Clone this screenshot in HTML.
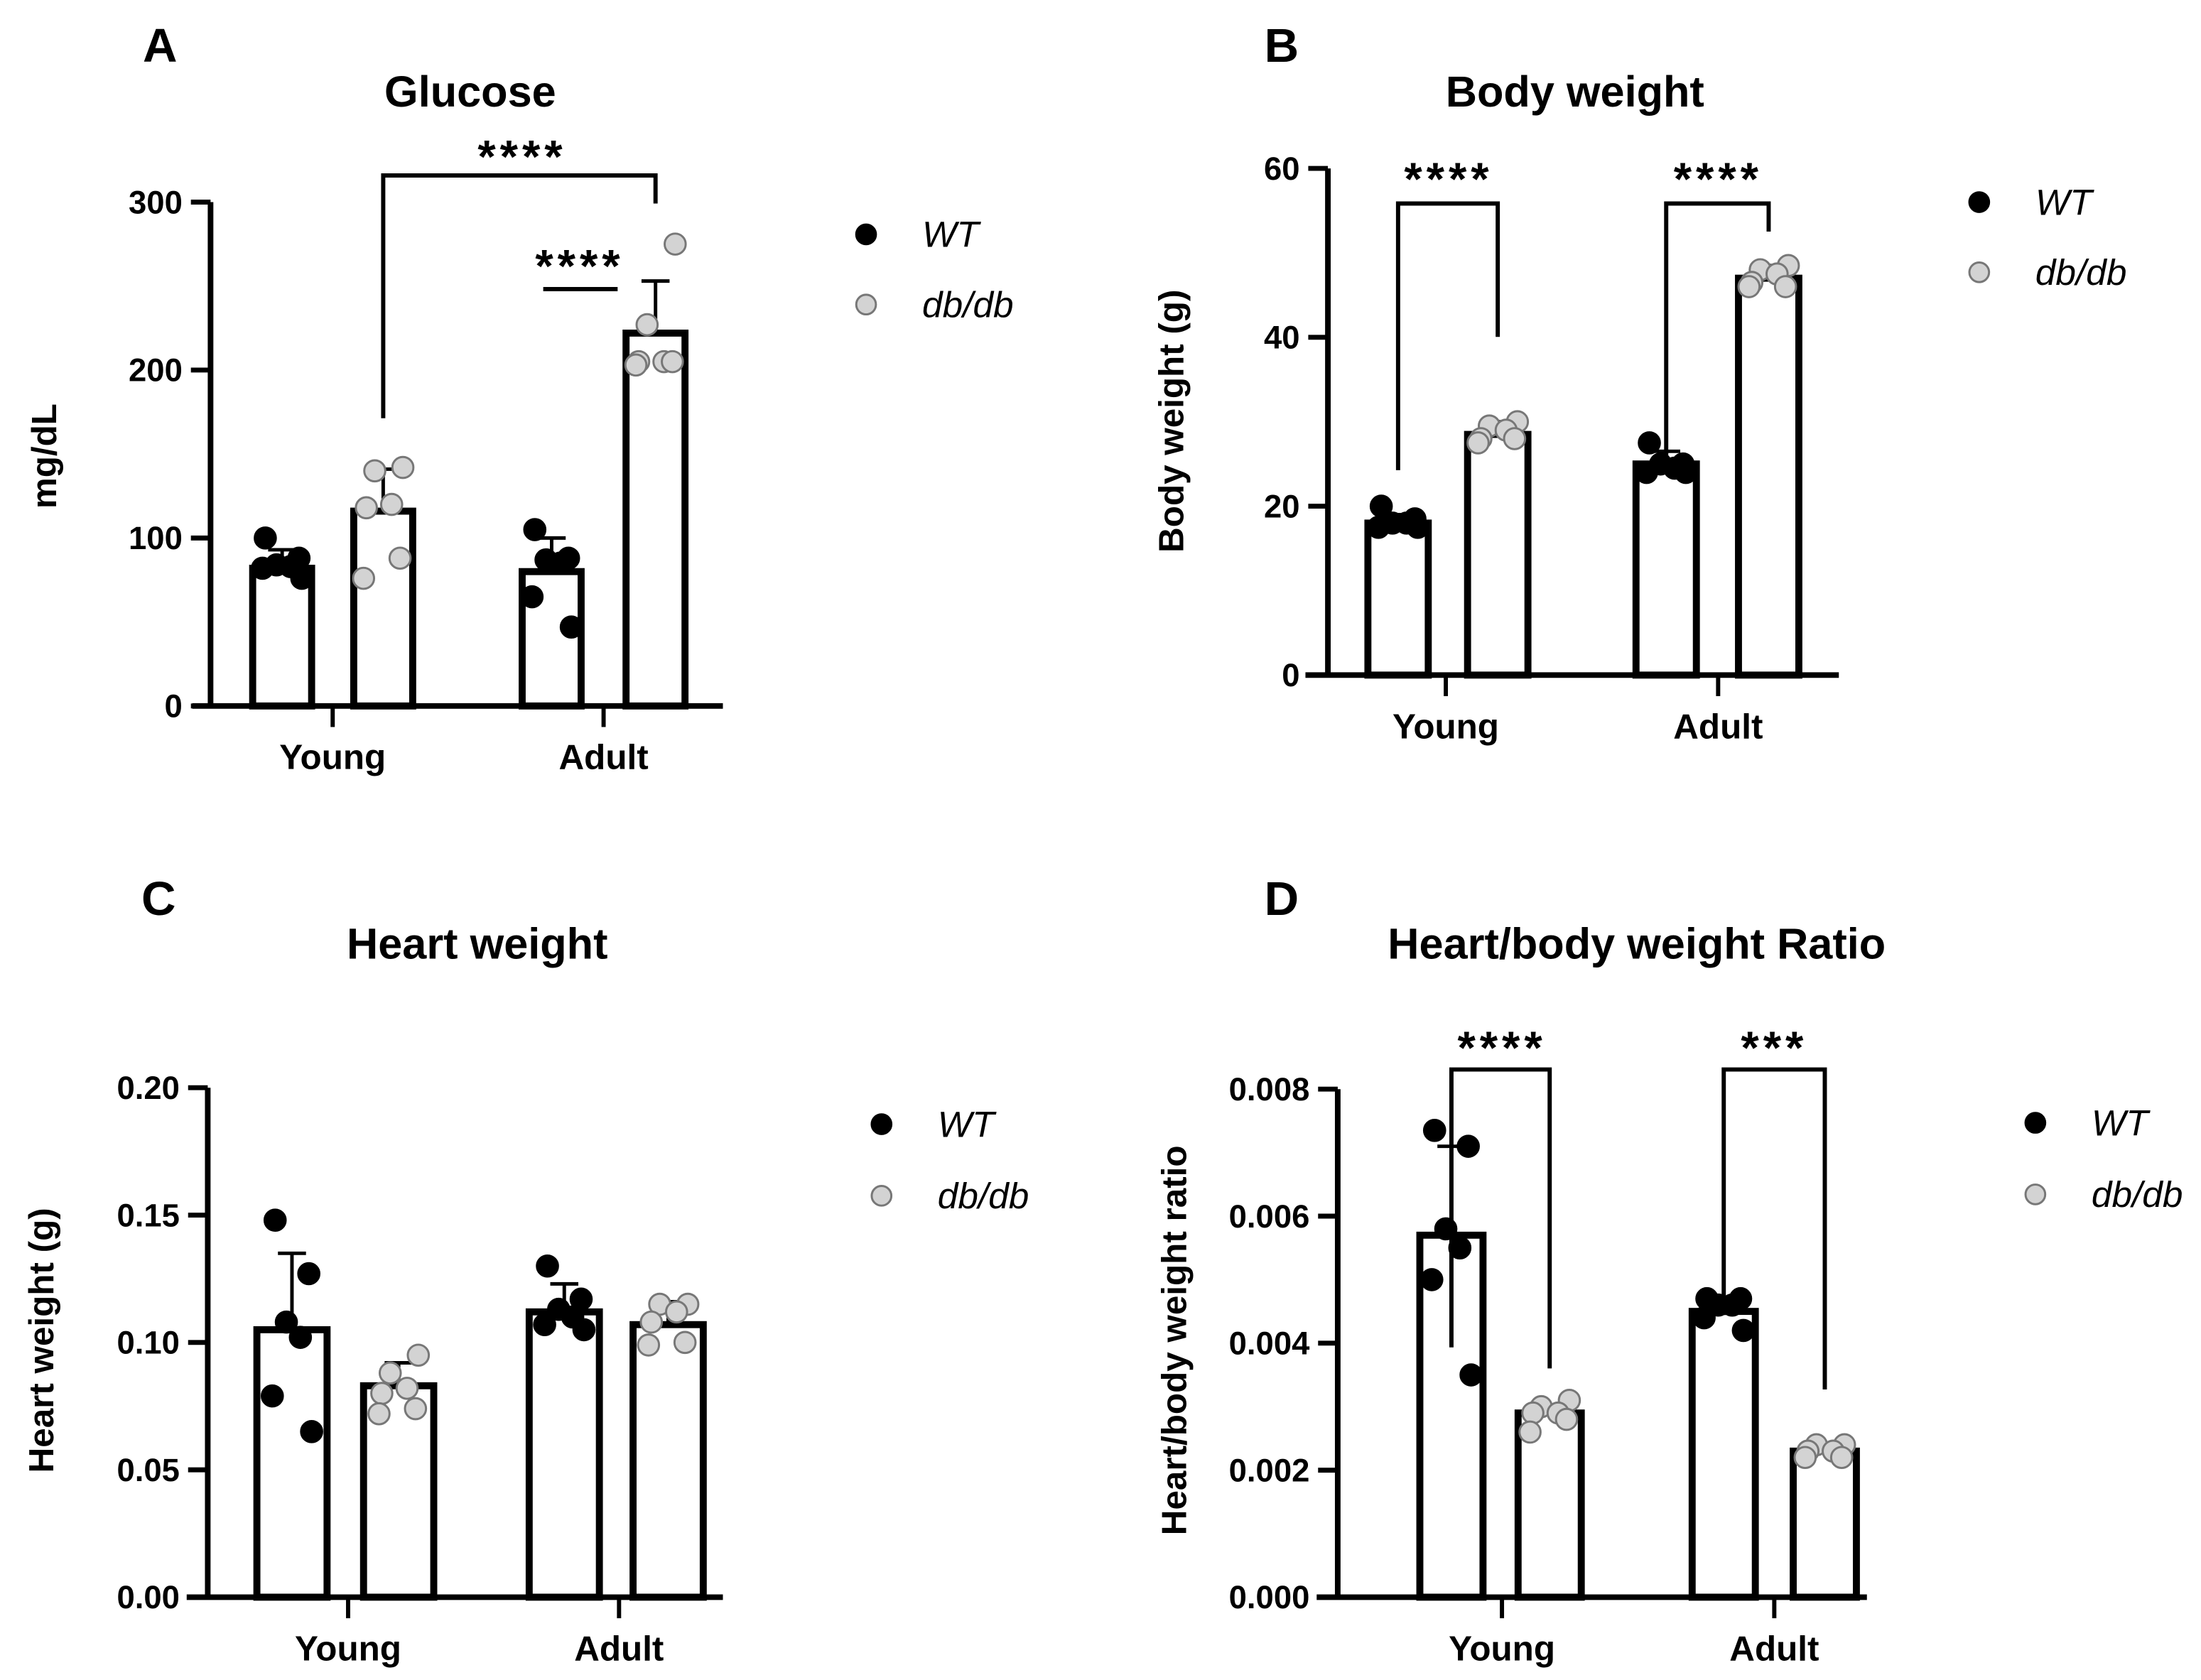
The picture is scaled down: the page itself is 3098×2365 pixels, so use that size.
<!DOCTYPE html>
<html><head><meta charset="utf-8"><style>
html,body{margin:0;padding:0;background:#fff}
svg{display:block}
text{font-family:"Liberation Sans",Arial,sans-serif}
</style></head><body>
<svg id="fig" width="3098" height="2365" viewBox="0 0 1568 1197" xmlns="http://www.w3.org/2000/svg"></svg>
<script>
// ===== Data =====
const categories = ["Young","Adult"];
const seriesNames = ["WT","db/db"];

// Panel A: Glucose
const glucoseMeans = [82,116,80,222];
const glucoseErr = [93,141,100,253];
const glucosePts = [[100,88,84,83,82,76],[142,140,120,118,88,76],[105,88,87,85,65,47],[275,227,205,205,205,203]];
const glucoseTicks = [0,100,200,300];
const glucoseTickLabels = ["0","100","200","300"];

// Panel B: Body weight
const bwMeans = [18,28.5,25,47];
const bwErr = [19,30,26.5,48.5];
const bwPts = [[20,18.5,18,18,17.5,17.5],[30,29.5,29,28,28,27.5],[27.5,25,25,24.5,24,24],[48.5,48,47.5,46.5,46,46]];
const bwTicks = [0,20,40,60];
const bwTickLabels = ["0","20","40","60"];

// Panel C: Heart weight
const hwMeans = [0.105,0.083,0.112,0.107];
const hwErr = [0.135,0.092,0.123,0.116];
const hwPts = [[0.148,0.127,0.108,0.102,0.079,0.065],[0.095,0.088,0.082,0.080,0.074,0.072],[0.130,0.117,0.113,0.110,0.107,0.105],[0.115,0.115,0.112,0.108,0.100,0.099]];
const hwTicks = [0,0.05,0.10,0.15,0.20];
const hwTickLabels = ["0.00","0.05","0.10","0.15","0.20"];

// Panel D: Heart/body weight ratio
const ratioMeans = [0.0057,0.0029,0.0045,0.0023];
const ratioErr = [0.0071,0.0030,0.0047,0.0024];
const ratioPts = [[0.00735,0.0071,0.0058,0.0055,0.0050,0.0035],[0.0031,0.0030,0.0029,0.0029,0.0028,0.0026],[0.0047,0.0047,0.0046,0.0046,0.0044,0.0042],[0.0024,0.0024,0.0023,0.0023,0.0022,0.0022]];
const ratioTicks = [0,0.002,0.004,0.006,0.008];
const ratioTickLabels = ["0.000","0.002","0.004","0.006","0.008"];

// ===== Rendering =====
const NS="http://www.w3.org/2000/svg";
const svg=document.getElementById('fig');
function mk(tag,attrs,parent,txt){const e=document.createElementNS(NS,tag);for(const k in attrs)e.setAttribute(k,attrs[k]);if(txt!==undefined)e.textContent=txt;(parent||svg).appendChild(e);return e;}
const jitter=[-12,12,-4,6,-14,14];
const jitterB=[14,-6,6,-12,12,-14];

function panel(cfg){
  const g=mk('g',{});
  
  
  const y=v=>cfg.y0+(v-cfg.vmin)/(cfg.vmax-cfg.vmin)*(cfg.y1-cfg.y0);
  const L=mk('text',{x:cfg.letter[0],y:cfg.letter[1],'font-size':34,'font-weight':'bold','text-anchor':'middle'},g,cfg.letterText);
  
  
  const T=mk('text',{x:cfg.title[0],y:cfg.title[1],'font-size':31,'font-weight':'bold','text-anchor':'middle'},g,cfg.titleText);
  
  
  const Y=mk('text',{x:0,y:0,'font-size':25,'font-weight':'bold','text-anchor':'middle',transform:`translate(${cfg.ylab[0]},${cfg.ylab[1]}) rotate(-90)`},g,cfg.ylabText);
  
  
  cfg.means.forEach((m,i)=>{
    const cx=cfg.barX[i], w=cfg.barW;
    const b=mk('rect',{x:cx-w/2,y:y(m),width:w,height:y(cfg.vmin)-y(m),fill:'#fff',stroke:'#000','stroke-width':5},g);
    
    
    const e=mk('path',{d:`M${cx},${y(m)}V${y(cfg.err[i])}M${cx-10},${y(cfg.err[i])}H${cx+10}`,stroke:'#000','stroke-width':2.5,fill:'none'},g);
    
    
  });
  cfg.pts.forEach((arr,i)=>{
    const js=(i%2)?jitterB:jitter;
    arr.forEach((v,k)=>{
      const c=mk('circle',{cx:cfg.barX[i]+js[k],cy:y(v),r:7.5,fill:i%2?'#d3d3d3':'#000',stroke:i%2?'#777':'#000','stroke-width':1.5},g);
      
      
    });
  });
  const ya=mk('path',{d:`M${cfg.ax},${y(cfg.vmax)}V${y(cfg.vmin)}`,stroke:'#000','stroke-width':4,fill:'none'},g);
  
  
  const xa=mk('path',{d:`M${cfg.xa[0]},${y(cfg.vmin)}H${cfg.xa[1]}`,stroke:'#000','stroke-width':4,fill:'none'},g);
  
  
  cfg.ticks.forEach((t,i)=>{
    mk('path',{d:`M${cfg.ax-14},${y(t)}H${cfg.ax}`,stroke:'#000','stroke-width':3.5},g);
    const tl=mk('text',{x:cfg.ax-20,y:y(t)+8,'font-size':23,'font-weight':'bold','text-anchor':'end'},g,cfg.tickLabels[i]);
    
    
  });
  categories.forEach((c,i)=>{
    const cx=cfg.catX[i];
    mk('path',{d:`M${cx},${y(cfg.vmin)}V${y(cfg.vmin)+15}`,stroke:'#000','stroke-width':3},g);
    const xl=mk('text',{x:cx,y:y(cfg.vmin)+45,'font-size':25,'font-weight':'bold','text-anchor':'middle'},g,c);
    
    
  });
  (cfg.sig||[]).forEach(s=>{
    const p=mk('path',{d:s.d,stroke:'#000','stroke-width':3,fill:'none'},g);
    
    
    const st=mk('text',{x:s.tx,y:s.ty,'font-size':33,'font-weight':'bold','text-anchor':'middle','letter-spacing':'3'},g,s.t);
    
    
  });
  seriesNames.forEach((n,i)=>{
    const ly=cfg.leg[1]+i*cfg.legGap;
    const c=mk('circle',{cx:cfg.leg[0],cy:ly,r:7,fill:i?'#d3d3d3':'#000',stroke:i?'#777':'#000','stroke-width':1.5},g);
    
    
    const lt=mk('text',{x:cfg.leg[0]+40,y:ly+9,'font-size':26,'font-style':'italic'},g,n);
    
    
  });
}

panel({name:'glucose-panel',letterText:'A',letter:[114,44],titleText:'Glucose',title:[335,76],ylabText:'mg/dL',ylab:[40,325],
 vmin:0,vmax:300,y0:503,y1:144,ax:150,xa:[137,515],catX:[237,430],barX:[201,273,393,467],barW:42,
 means:glucoseMeans,err:glucoseErr,pts:glucosePts,ticks:glucoseTicks,tickLabels:glucoseTickLabels,
 sig:[{d:'M273,298V125H467V145',t:'****',tx:372,ty:123},{d:'M387,206H440',t:'****',tx:413,ty:201}],
 leg:[617,167],legGap:50});

panel({name:'body-weight-panel',letterText:'B',letter:[913,44],titleText:'Body weight',title:[1122,76],ylabText:'Body weight (g)',ylab:[843,300],
 vmin:0,vmax:60,y0:481,y1:120,ax:946,xa:[930,1310],catX:[1030,1224],barX:[996,1067,1187,1260],barW:43,
 means:bwMeans,err:bwErr,pts:bwPts,ticks:bwTicks,tickLabels:bwTickLabels,
 sig:[{d:'M996,335V145H1067V240',t:'****',tx:1032,ty:139},{d:'M1187,333V145H1260V165',t:'****',tx:1224,ty:139}],
 leg:[1410,144],legGap:50});

panel({name:'heart-weight-panel',letterText:'C',letter:[113,652],titleText:'Heart weight',title:[340,683],ylabText:'Heart weight (g)',ylab:[38,955],
 vmin:0,vmax:0.2,y0:1138,y1:775,ax:148,xa:[133,515],catX:[248,441],barX:[208,284,402,476],barW:50,
 means:hwMeans,err:hwErr,pts:hwPts,ticks:hwTicks,tickLabels:hwTickLabels,
 leg:[628,801],legGap:51});

panel({name:'heart-body-ratio-panel',letterText:'D',letter:[913,652],titleText:'Heart/body weight Ratio',title:[1166,683],ylabText:'Heart/body weight ratio',ylab:[845,955],
 vmin:0,vmax:0.008,y0:1138,y1:776,ax:953,xa:[938,1330],catX:[1070,1264],barX:[1034,1104,1228,1300],barW:45,
 means:ratioMeans,err:ratioErr,pts:ratioPts,ticks:ratioTicks,tickLabels:ratioTickLabels,
 sig:[{d:'M1034,960V762H1104V975',t:'****',tx:1070,ty:758},{d:'M1228,937V762H1300V990',t:'***',tx:1264,ty:758}],
 leg:[1450,800],legGap:51});
</script>
</body></html>
